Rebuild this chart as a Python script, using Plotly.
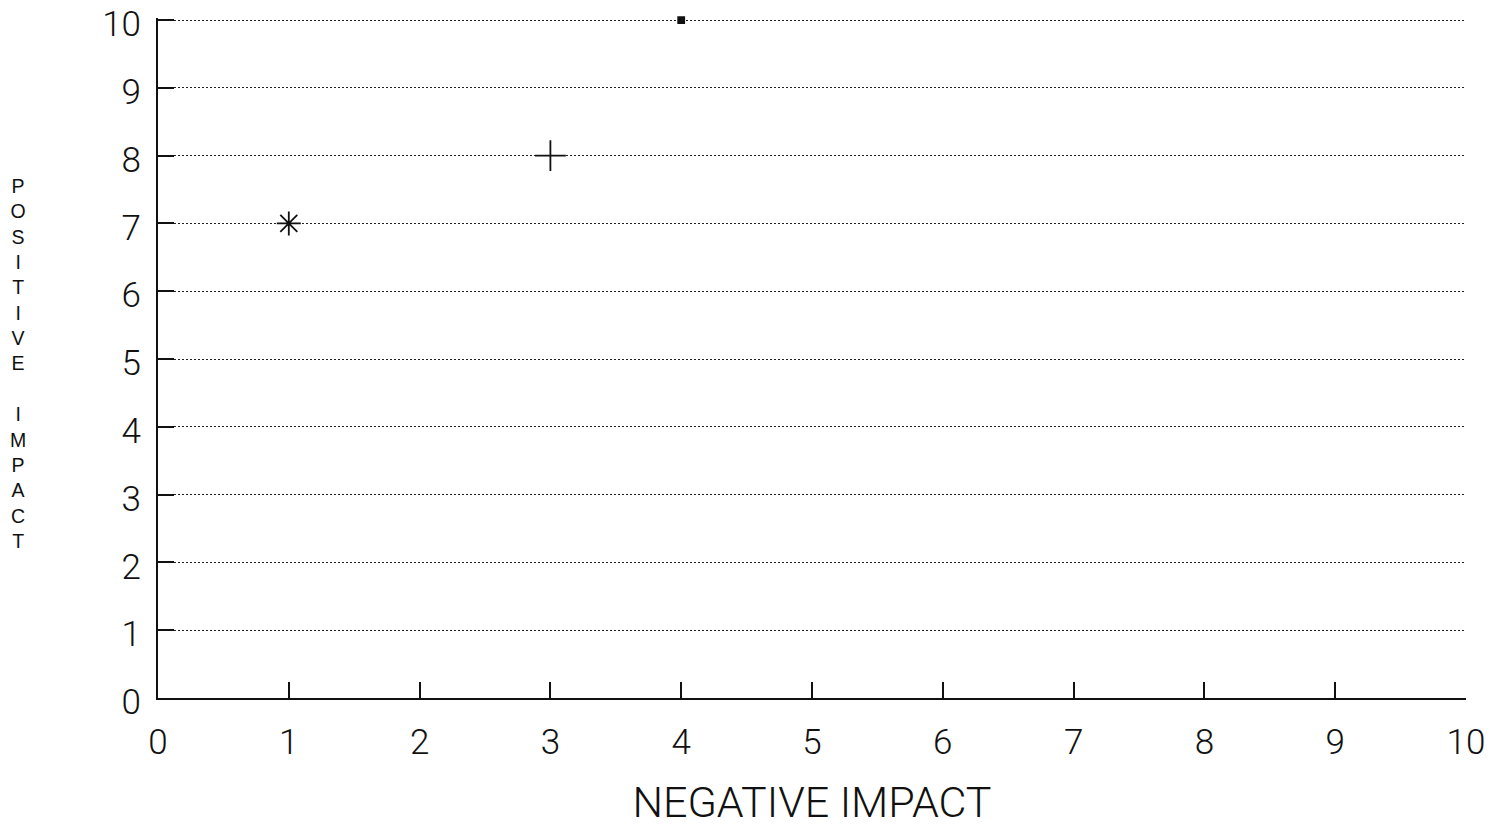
import plotly.graph_objects as go

# Plotted items: (negative impact, positive impact) and marker style
neg_impact = [1, 3, 4]
pos_impact = [7, 8, 10]
symbols = ["asterisk-open", "cross-thin-open", "square"]
sizes = [20, 22, 6]

tick_vals = list(range(0, 11))
tick_text = [str(v) for v in tick_vals]

y_title = "POSITIVE IMPACT"

fig = go.Figure()
for x, y, s, sz in zip(neg_impact, pos_impact, symbols, sizes):
    fig.add_trace(go.Scatter(
        x=[x], y=[y], mode="markers", cliponaxis=False, showlegend=False,
        marker=dict(symbol=s, size=sz, color="#111111",
                    line=dict(color="#111111", width=1.8)),
    ))

axis_font = dict(family="Roboto, Liberation Sans, sans-serif", size=35,
                 color="#111111", weight=300)

fig.update_xaxes(
    range=[0, 10], tickvals=tick_vals, ticktext=tick_text,
    showgrid=False, zeroline=False, automargin=False,
    showline=True, linecolor="#111111", linewidth=2,
    ticks="inside", ticklen=16, tickwidth=2, tickcolor="#111111",
    tickfont=axis_font, ticklabelstandoff=12,
    title=dict(text="NEGATIVE IMPACT", standoff=28,
               font=dict(family="Roboto, Liberation Sans, sans-serif",
                         size=43, color="#111111", weight=300)),
)
fig.update_yaxes(
    range=[0, 10.03], tickvals=tick_vals, ticktext=tick_text,
    showgrid=True, gridcolor="#222222", gridwidth=1.2, griddash="1.5px,2.5px",
    zeroline=False, ticklabeloverflow="allow", automargin=False,
    showline=True, linecolor="#111111", linewidth=2,
    ticks="inside", ticklen=16, tickwidth=2, tickcolor="#111111",
    tickfont=axis_font, ticklabelstandoff=8, ticklabelshift=4,
)

# Vertical stacked-letter axis title
stacked = "<br>".join(ch if ch != " " else " " for ch in y_title)
fig.add_annotation(
    text=stacked, xref="paper", yref="paper", x=-0.107, y=0.492,
    xanchor="center", yanchor="middle", showarrow=False, align="center",
    font=dict(family="Liberation Sans, sans-serif", size=19.5, color="#111111"),
)

fig.update_layout(
    width=1495, height=827,
    margin=dict(l=158, r=29, t=18, b=129, pad=0),
    paper_bgcolor="white", plot_bgcolor="white",
)

fig.write_html("out.html")
